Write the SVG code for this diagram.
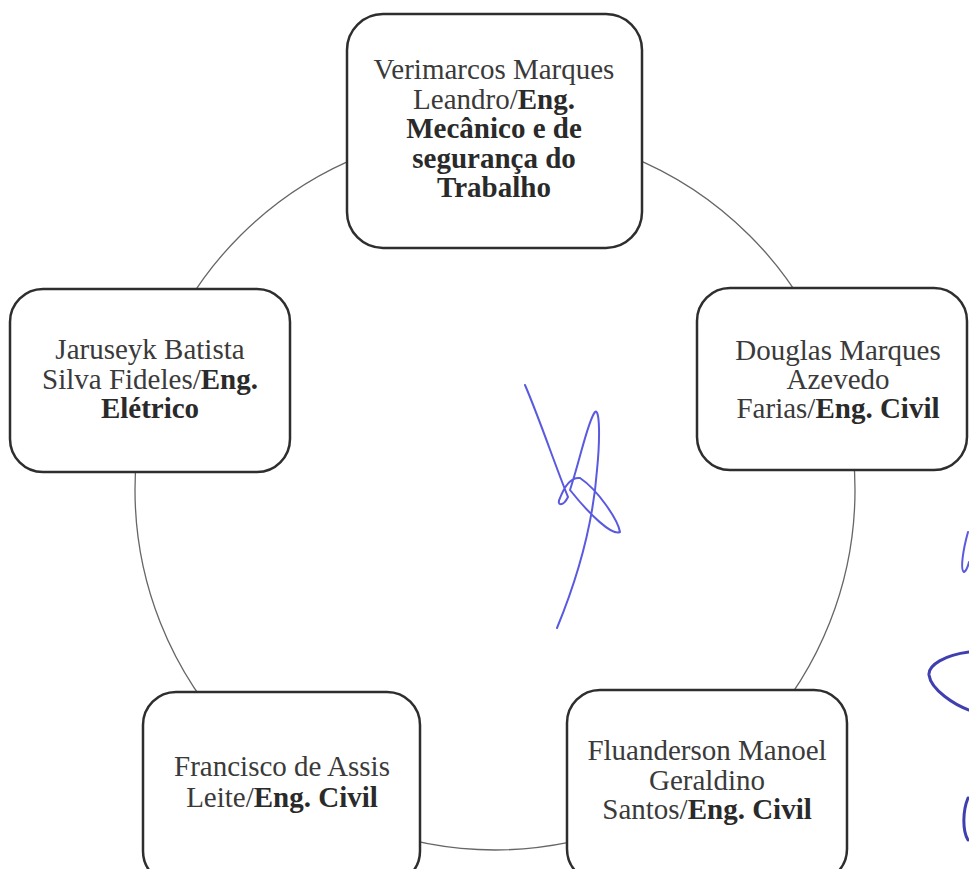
<svg xmlns="http://www.w3.org/2000/svg" width="969" height="869" viewBox="0 0 969 869">
<style>
.box{fill:#fff;stroke:#2e2e2e;stroke-width:2.5}
.ring{fill:none;stroke:#666;stroke-width:1.3}
text{font-family:"Liberation Serif","Times New Roman",serif;font-size:29px;fill:#3a3a3a;text-anchor:middle}
.b{font-weight:bold;fill:#2a2a2a}
.sig{fill:none;stroke:#5a5ae0;stroke-width:2;stroke-linecap:round;stroke-linejoin:round}
.sig2{fill:none;stroke:#3f3fb0;stroke-width:3;stroke-linecap:round}
</style>
<rect width="969" height="869" fill="#fff"/>
<g id="connectors">
<circle class="ring" cx="495" cy="490" r="360"/>
</g>
<g id="node-verimarcos">
<rect class="box" x="347" y="14" width="295" height="234" rx="36"/>
<text x="494" y="79">Verimarcos Marques</text>
<text x="494" y="109">Leandro/<tspan class="b">Eng.</tspan></text>
<text x="494" y="138" class="b">Mecânico e de</text>
<text x="494" y="168" class="b">segurança do</text>
<text x="494" y="197" class="b">Trabalho</text>
</g>
<g id="node-jaruseyk">
<rect class="box" x="10" y="289" width="280" height="183" rx="33"/>
<text x="150" y="359">Jaruseyk Batista</text>
<text x="150" y="389">Silva Fideles/<tspan class="b">Eng.</tspan></text>
<text x="150" y="418" class="b">Elétrico</text>
</g>
<g id="node-douglas">
<rect class="box" x="697" y="288" width="270" height="182" rx="33"/>
<text x="838" y="360">Douglas Marques</text>
<text x="838" y="389">Azevedo</text>
<text x="838" y="418">Farias/<tspan class="b">Eng. Civil</tspan></text>
</g>
<g id="node-francisco">
<rect class="box" x="143" y="692" width="277" height="192" rx="33"/>
<text x="282" y="776">Francisco de Assis</text>
<text x="282" y="807">Leite/<tspan class="b">Eng. Civil</tspan></text>
</g>
<g id="node-fluanderson">
<rect class="box" x="567" y="690" width="280" height="192" rx="33"/>
<text x="707" y="760">Fluanderson Manoel</text>
<text x="707" y="790">Geraldino</text>
<text x="707" y="819">Santos/<tspan class="b">Eng. Civil</tspan></text>
</g>
<g id="signatures">
<path class="sig" d="M525,385 C540,420 555,465 568,497 C563,507 556,506 560,498 C565,485 572,477 580,478 C598,490 618,520 620,532 C612,536 590,515 570,490 C580,460 588,420 595,412 C600,408 600,440 597,470 C594,510 585,560 557,628"/>
<path class="sig" d="M968,532 C963,550 960,570 964,572 C966,571 968,566 969,562"/>
<path class="sig2" d="M969,652 C945,655 928,665 929,675 C931,690 955,705 969,710"/>
<path class="sig2" d="M968,798 C963,810 962,830 968,840"/>
</g>
</svg>
